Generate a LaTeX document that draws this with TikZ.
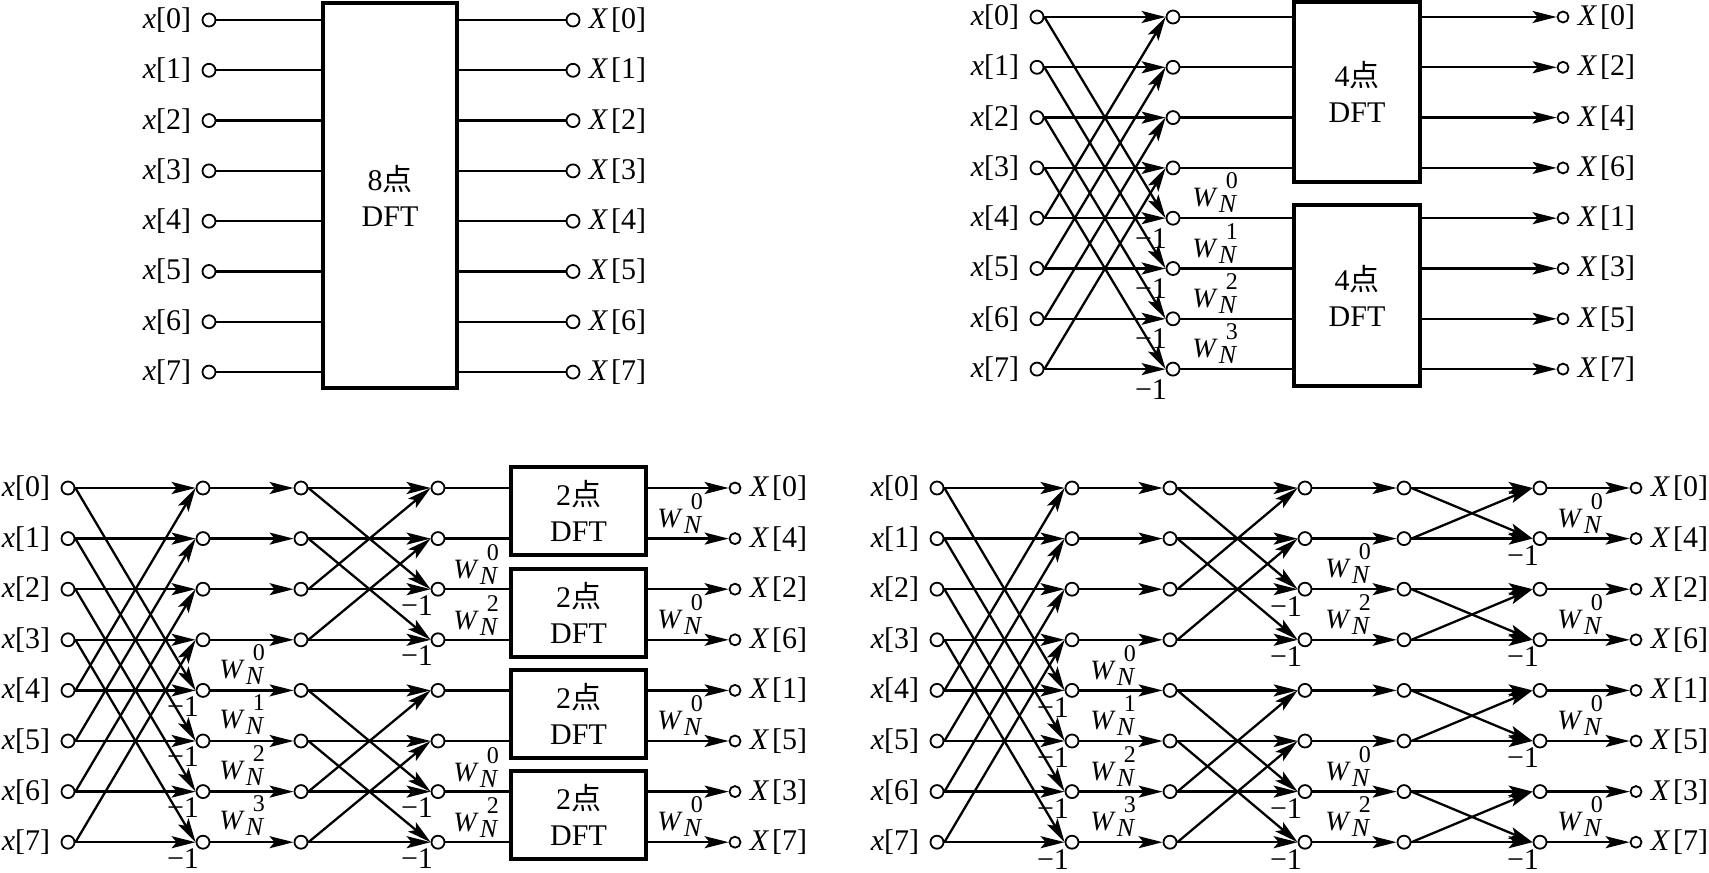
\documentclass[tikz,border=0pt]{standalone}
\usepackage{fontspec}
\setmainfont{Liberation Serif}
\newfontfamily\cjk{Noto Sans CJK SC}
\usetikzlibrary{arrows.meta,positioning}

\newcommand{\xin}[1]{\textit{x}[#1]}
\newcommand{\xout}[1]{\textit{X}\kern1.5pt[#1]}
\newcommand{\wn}[1]{\textit{W}\kern0.5pt\rlap{\raisebox{9pt}{\kern3.5pt\fontsize{12}{12}\selectfont #1}}\raisebox{-3pt}{\fontsize{13}{13}\selectfont\textit{N}}}
\newcommand{\dftbox}[1]{#1{\cjk 点}\\DFT}

\tikzset{
    port/.style={circle, draw, line width=0.9pt, minimum size=6.5pt, inner sep=0pt},
    sport/.style={port, minimum size=5.5pt},
    box/.style={draw, line width=2pt, inner sep=0pt, align=center,
                font=\fontsize{15}{18}\selectfont},
    wire/.style={line width=1.15pt},
    flow/.style={wire, -{Stealth[length=12pt, width=6pt, inset=2.5pt]}},
    lbl/.style={inner sep=0pt, font=\fontsize{15}{17}\selectfont},
    neg/.style={inner sep=0pt, font=\fontsize{15}{16}\selectfont},
    tw/.style={inner sep=0pt, anchor=south west, font=\fontsize{14}{14}\selectfont},
}

\begin{document}
\begin{tikzpicture}[x=0.5pt, y=-0.5pt]
    \useasboundingbox (0,0) rectangle (1709,873);

    % 8-point DFT as one block
    \node[box, minimum width=67pt, minimum height=192.5pt] (dft8) at (390,195.5) {\dftbox{8}};
    \foreach \i in {0,...,7}{
        \node[port] (pa\i) at (209,{20+50.3*\i}) {};
        \node[lbl, left=5pt of pa\i] (pla\i) {\xin{\i}};
        \node[port] (pb\i) at (573,{20+50.3*\i}) {};
        \node[lbl, right=4pt of pb\i] (plb\i) {\xout{\i}};
        \draw[wire] (pa\i.east) -- (pa\i -| dft8.west);
        \draw[wire] (pb\i -| dft8.east) -- (pb\i.west);
    }

    % first stage, two 4-point DFTs
    \node[box, minimum width=63pt, minimum height=90pt] (dft4a) at (1357,92) {\dftbox{4}};
    \node[box, minimum width=63pt, minimum height=90.5pt] (dft4b) at (1357,295.5) {\dftbox{4}};
    \foreach \i/\k in {0/0,1/2,2/4,3/6,4/1,5/3,6/5,7/7}{
        \node[port] (qa\i) at (1037,{17+50.3*\i}) {};
        \node[lbl, left=5pt of qa\i] (qla\i) {\xin{\i}};
        \node[port] (qb\i) at (1173,{17+50.3*\i}) {};
        \node[sport] (qc\i) at (1563,{17+50.3*\i}) {};
        \node[lbl, right=4pt of qc\i] (qlc\i) {\xout{\k}};
    }
    \foreach \i in {0,...,3}{
        \pgfmathtruncatemacro\j{\i+4}
        \draw[flow] (qa\i.east) -- (qb\i.west);
        \draw[flow] (qa\i.east) -- (qb\j.west);
        \draw[flow] (qa\j.east) -- (qb\j.west);
        \draw[flow] (qa\j.east) -- (qb\i.west);
        \draw[wire] (qb\i.east) -- (qb\i -| dft4a.west);
        \draw[wire] (qb\j.east) -- (qb\j -| dft4b.west);
        \draw[flow] (qc\i -| dft4a.east) -- (qc\i.west);
        \draw[flow] (qc\j -| dft4b.east) -- (qc\j.west);
        \node[neg] (qn\j) at ([shift={(-22,20)}]qb\j) {−1};
        \node[tw] (qw\j) at (1192,{17+50.3*\j-5}) {\wn{\i}};
    }

    % two stages, four 2-point DFTs
    \foreach \i/\k in {0/0,1/4,2/2,3/6,4/1,5/5,6/3,7/7}{
        \node[port] (ra\i) at (68,{488+50.6*\i}) {};
        \node[lbl, left=5pt of ra\i] (rla\i) {\xin{\i}};
        \node[port] (rb\i) at (203,{488+50.6*\i}) {};
        \node[port] (rc\i) at (301,{488+50.6*\i}) {};
        \node[port] (rd\i) at (438,{488+50.6*\i}) {};
        \node[sport] (re\i) at (735,{488+50.6*\i}) {};
        \node[lbl, right=4pt of re\i] (rle\i) {\xout{\k}};
        \draw[flow] (rb\i.east) -- (rc\i.west);
    }
    \foreach \i in {0,...,3}{
        \pgfmathtruncatemacro\j{\i+4}
        \draw[flow] (ra\i.east) -- (rb\i.west);
        \draw[flow] (ra\i.east) -- (rb\j.west);
        \draw[flow] (ra\j.east) -- (rb\j.west);
        \draw[flow] (ra\j.east) -- (rb\i.west);
        \node[neg] (rn\j) at ([shift={(-20,16)}]rb\j) {−1};
        \node[tw] (rv\j) at (219,{488+50.6*\j-6}) {\wn{\i}};
    }
    \foreach \i/\j in {0/2,1/3,4/6,5/7}{
        \draw[flow] (rc\i.east) -- (rd\i.west);
        \draw[flow] (rc\i.east) -- (rd\j.west);
        \draw[flow] (rc\j.east) -- (rd\j.west);
        \draw[flow] (rc\j.east) -- (rd\i.west);
        \node[neg] (rm\j) at ([shift={(-21,16)}]rd\j) {−1};
    }
    \foreach \j/\k in {2/0,3/2,6/0,7/2}{
        \node[tw] (ru\j) at (453,{488+50.6*\j-4}) {\wn{\k}};
    }
    \foreach \b/\u/\v in {1/0/1,2/2/3,3/4/5,4/6/7}{
        \node[box, minimum width=67.5pt, minimum height=44pt] (dft2\b)
            at (578.5,{488+50.6*(\u+0.5)-2}) {\dftbox{2}};
        \draw[wire] (rd\u.east) -- (rd\u -| dft2\b.west);
        \draw[wire] (rd\v.east) -- (rd\v -| dft2\b.west);
        \draw[flow] (re\u -| dft2\b.east) -- (re\u.west);
        \draw[flow] (re\v -| dft2\b.east) -- (re\v.west);
        \node[tw] (rw\b) at (657,{488+50.6*\v-5}) {\wn{0}};
    }

    % full radix-2 flow graph
    \foreach \i/\k in {0/0,1/4,2/2,3/6,4/1,5/5,6/3,7/7}{
        \node[port] (sa\i) at (937,{488+50.6*\i}) {};
        \node[lbl, left=5pt of sa\i] (sla\i) {\xin{\i}};
        \node[port] (sb\i) at (1072,{488+50.6*\i}) {};
        \node[port] (sc\i) at (1170,{488+50.6*\i}) {};
        \node[port] (sd\i) at (1305,{488+50.6*\i}) {};
        \node[port] (se\i) at (1404,{488+50.6*\i}) {};
        \node[port] (sf\i) at (1540,{488+50.6*\i}) {};
        \node[sport] (sg\i) at (1636,{488+50.6*\i}) {};
        \node[lbl, right=4pt of sg\i] (slg\i) {\xout{\k}};
        \draw[flow] (sb\i.east) -- (sc\i.west);
        \draw[flow] (sd\i.east) -- (se\i.west);
        \draw[flow] (sf\i.east) -- (sg\i.west);
    }
    \foreach \i in {0,...,3}{
        \pgfmathtruncatemacro\j{\i+4}
        \draw[flow] (sa\i.east) -- (sb\i.west);
        \draw[flow] (sa\i.east) -- (sb\j.west);
        \draw[flow] (sa\j.east) -- (sb\j.west);
        \draw[flow] (sa\j.east) -- (sb\i.west);
        \node[neg] (sn\j) at ([shift={(-19,17)}]sb\j) {−1};
        \node[tw] (sv\j) at (1090,{488+50.6*\j-5}) {\wn{\i}};
    }
    \foreach \i/\j in {0/2,1/3,4/6,5/7}{
        \draw[flow] (sc\i.east) -- (sd\i.west);
        \draw[flow] (sc\i.east) -- (sd\j.west);
        \draw[flow] (sc\j.east) -- (sd\j.west);
        \draw[flow] (sc\j.east) -- (sd\i.west);
        \node[neg] (sm\j) at ([shift={(-19,17)}]sd\j) {−1};
    }
    \foreach \j/\k in {2/0,3/2,6/0,7/2}{
        \node[tw] (su\j) at (1325,{488+50.6*\j-5}) {\wn{\k}};
    }
    \foreach \i/\j in {0/1,2/3,4/5,6/7}{
        \draw[flow] (se\i.east) -- (sf\i.west);
        \draw[flow] (se\i.east) -- (sf\j.west);
        \draw[flow] (se\j.east) -- (sf\j.west);
        \draw[flow] (se\j.east) -- (sf\i.west);
        \node[neg] (sk\j) at ([shift={(-17,17)}]sf\j) {−1};
        \node[tw] (sw\j) at (1557,{488+50.6*\j-5}) {\wn{0}};
    }

\end{tikzpicture}
\end{document}
